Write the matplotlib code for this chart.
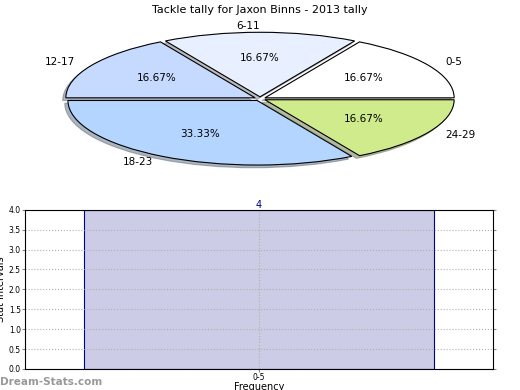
import matplotlib.pyplot as plt

# pie data
intervals = ["0-5", "6-11", "12-17", "18-23", "24-29"]
counts = [1, 1, 1, 2, 1]
pie_colors = ["#ffffff", "#e8f0ff", "#c6d9ff", "#b3d5ff", "#d0eb8b"]

# bar data
bar_labels = ["0-5"]
bar_values = [4]

fig = plt.figure(figsize=(5.2, 3.9), dpi=100)

# top: squashed pie
ax1 = fig.add_axes([0, 0.5, 1, 0.5])
ax1.pie(counts, labels=intervals, colors=pie_colors, autopct="%.2f%%",
        startangle=0, counterclock=True,
        shadow={"ox": -0.012, "oy": -0.03, "shade": 0.5},
        explode=[0.03] * len(counts),
        wedgeprops=dict(edgecolor="black", linewidth=0.8),
        textprops=dict(fontsize=7.5))
ax1.set_aspect("auto")
ax1.set_xlim(-1.374, 1.374)
ax1.set_ylim(-1.49, 1.53)
ax1.axis("off")
fig.text(0.5, 0.975, "Tackle tally for Jaxon Binns - 2013 tally",
         ha="center", va="center", fontsize=8)

# bottom: frequency bar
ax2 = fig.add_axes([0.048, 0.054, 0.9, 0.408])
bars = ax2.bar(range(len(bar_values)), bar_values, width=1.0,
               color="#ccccE6", edgecolor="#00008b", linewidth=0.8, zorder=2)
for b, v in zip(bars, bar_values):
    ax2.text(b.get_x() + b.get_width() / 2, v, str(v), ha="center",
             va="bottom", fontsize=7, color="#00008b")
ax2.set_xlim(-0.67, 0.67)
ax2.set_ylim(0, 4)
ax2.set_xticks(range(len(bar_labels)))
ax2.set_xticklabels(bar_labels)
ax2.set_yticks([i * 0.5 for i in range(9)])
ax2.tick_params(labelsize=5.5, length=2, pad=1, color="#888888")
ax2.tick_params(axis="y", right=True)
ax2.grid(True, linestyle=":", color="#b0b0b0", linewidth=0.8, zorder=3)
ax2.set_axisbelow(False)
ax2.set_xlabel("Frequency", fontsize=7, labelpad=0)
ax2.set_ylabel("Stat Intervals", fontsize=7, labelpad=2)
for s in ax2.spines.values():
    s.set_linewidth(0.8)
    s.set_zorder(5)

fig.text(0.0, 0.008, "Dream-Stats.com", fontsize=7.5, color="#999999",
         fontweight="bold", ha="left", va="bottom")

fig.savefig("out.png", dpi=100)
